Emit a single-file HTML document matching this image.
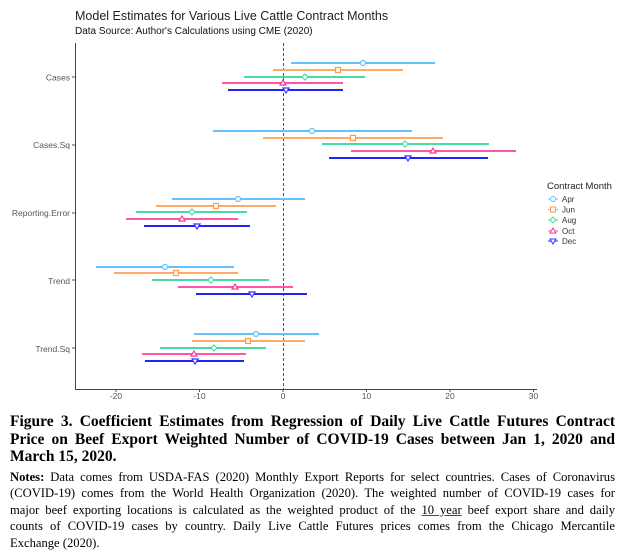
<!DOCTYPE html>
<html><head><meta charset="utf-8"><style>
body{margin:0;width:627px;height:552px;background:#fff;overflow:hidden;position:relative}
.cap{position:absolute;left:10px;width:605px;font-family:"Liberation Serif",serif;color:#000}
.cap div{text-align:justify;text-align-last:justify;white-space:nowrap}
.cap div.l{text-align-last:left}
</style></head><body>
<svg width="627" height="410" style="position:absolute;left:0;top:0" font-family="Liberation Sans, sans-serif">
<text x="75" y="20" font-size="12.5" fill="#222">Model Estimates for Various Live Cattle Contract Months</text>
<text x="75" y="34" font-size="10" fill="#111">Data Source: Author's Calculations using CME (2020)</text>
<line x1="75.5" y1="43" x2="75.5" y2="389" stroke="#444" stroke-width="1"/>
<line x1="75" y1="389.5" x2="537" y2="389.5" stroke="#444" stroke-width="1"/>
<line x1="283.5" y1="43" x2="283.5" y2="389" stroke="#222" stroke-width="0.8" stroke-dasharray="3,2"/>
<g font-size="8.5" fill="#555" text-anchor="end">
<text x="70" y="80.5">Cases</text><text x="70" y="148">Cases.Sq</text><text x="70" y="216">Reporting.Error</text><text x="70" y="284">Trend</text><text x="70" y="352">Trend.Sq</text>
</g>
<g stroke="#555"><line x1="72" y1="77" x2="75" y2="77"/><line x1="72" y1="145" x2="75" y2="145"/><line x1="72" y1="213" x2="75" y2="213"/><line x1="72" y1="280" x2="75" y2="280"/><line x1="72" y1="348" x2="75" y2="348"/>
<line x1="116" y1="389" x2="116" y2="392"/><line x1="199.5" y1="389" x2="199.5" y2="392"/><line x1="283" y1="389" x2="283" y2="392"/><line x1="366.5" y1="389" x2="366.5" y2="392"/><line x1="450" y1="389" x2="450" y2="392"/><line x1="533.5" y1="389" x2="533.5" y2="392"/></g>
<g font-size="8.5" fill="#555" text-anchor="middle">
<text x="116" y="399">-20</text><text x="199.5" y="399">-10</text><text x="283" y="399">0</text><text x="366.5" y="399">10</text><text x="450" y="399">20</text><text x="533.5" y="399">30</text>
</g>
<g stroke-width="2">
<line x1="291" y1="63" x2="435" y2="63" stroke="#66c2ff"/><line x1="273" y1="70" x2="403" y2="70" stroke="#ffaa66"/><line x1="244" y1="77" x2="365" y2="77" stroke="#44dda5"/><line x1="222" y1="83" x2="343" y2="83" stroke="#ff55aa"/><line x1="228" y1="90" x2="343" y2="90" stroke="#2222ff"/>
<line x1="213" y1="131" x2="412" y2="131" stroke="#66c2ff"/><line x1="263" y1="138" x2="443" y2="138" stroke="#ffaa66"/><line x1="322" y1="144" x2="489" y2="144" stroke="#44dda5"/><line x1="351" y1="151" x2="516" y2="151" stroke="#ff55aa"/><line x1="329" y1="158" x2="488" y2="158" stroke="#2222ff"/>
<line x1="172" y1="199" x2="305" y2="199" stroke="#66c2ff"/><line x1="156" y1="206" x2="276" y2="206" stroke="#ffaa66"/><line x1="136" y1="212" x2="247" y2="212" stroke="#44dda5"/><line x1="126" y1="219" x2="238" y2="219" stroke="#ff55aa"/><line x1="144" y1="226" x2="250" y2="226" stroke="#2222ff"/>
<line x1="96" y1="267" x2="234" y2="267" stroke="#66c2ff"/><line x1="114" y1="273" x2="238" y2="273" stroke="#ffaa66"/><line x1="152" y1="280" x2="269" y2="280" stroke="#44dda5"/><line x1="178" y1="287" x2="293" y2="287" stroke="#ff55aa"/><line x1="196" y1="294" x2="307" y2="294" stroke="#2222ff"/>
<line x1="194" y1="334" x2="319" y2="334" stroke="#66c2ff"/><line x1="192" y1="341" x2="305" y2="341" stroke="#ffaa66"/><line x1="160" y1="348" x2="266" y2="348" stroke="#44dda5"/><line x1="142" y1="354" x2="246" y2="354" stroke="#ff55aa"/><line x1="145" y1="361" x2="244" y2="361" stroke="#2222ff"/>
</g>
<g fill="#fff" stroke-width="1.2">
<g stroke="#66c2ff"><circle cx="363" cy="63" r="2.5"/><circle cx="312" cy="131" r="2.5"/><circle cx="238" cy="199" r="2.5"/><circle cx="165" cy="267" r="2.5"/><circle cx="256" cy="334" r="2.5"/></g>
<g stroke="#ff9944"><rect x="335.5" y="67.5" width="5" height="5"/><rect x="350.5" y="135.5" width="5" height="5"/><rect x="213.5" y="203.5" width="5" height="5"/><rect x="173.5" y="270.5" width="5" height="5"/><rect x="245.5" y="338.5" width="5" height="5"/></g>
<g stroke="#44dda5"><path d="M305 74l3 3-3 3-3-3z"/><path d="M405 141l3 3-3 3-3-3z"/><path d="M192 209l3 3-3 3-3-3z"/><path d="M211 277l3 3-3 3-3-3z"/><path d="M214 345l3 3-3 3-3-3z"/></g>
<g stroke="#ff3399"><path d="M283 80l3 5h-6z"/><path d="M433 148l3 5h-6z"/><path d="M182 216l3 5h-6z"/><path d="M235 284l3 5h-6z"/><path d="M194 351l3 5h-6z"/></g>
<g stroke="#3333ff"><path d="M286 93l3-5h-6z"/><path d="M408 161l3-5h-6z"/><path d="M197 229l3-5h-6z"/><path d="M252 297l3-5h-6z"/><path d="M195 364l3-5h-6z"/></g>
</g>
<text x="547" y="189" font-size="9.5" fill="#222">Contract Month</text>
<g font-size="8" fill="#333">
<line x1="548" y1="199" x2="558" y2="199" stroke="#66c2ff"/><circle cx="553" cy="199" r="2.5" fill="#fff" stroke="#66c2ff"/><text x="562" y="202">Apr</text>
<line x1="548" y1="209.5" x2="558" y2="209.5" stroke="#ffaa66"/><rect x="550.5" y="207" width="5" height="5" fill="#fff" stroke="#ff9944"/><text x="562" y="212.5">Jun</text>
<line x1="548" y1="220" x2="558" y2="220" stroke="#44dda5"/><path d="M553 217l3 3-3 3-3-3z" fill="#fff" stroke="#44dda5"/><text x="562" y="223">Aug</text>
<line x1="548" y1="231" x2="558" y2="231" stroke="#ff55aa"/><path d="M553 228l3 5h-6z" fill="#fff" stroke="#ff3399"/><text x="562" y="234">Oct</text>
<line x1="548" y1="241" x2="558" y2="241" stroke="#2222ff"/><path d="M553 244l3-5h-6z" fill="#fff" stroke="#3333ff"/><text x="562" y="244">Dec</text>
</g>
</svg>
<div class="cap" style="top:413px;font-size:15.5px;font-weight:bold;line-height:17.5px">
<div>Figure 3. Coefficient Estimates from Regression of Daily Live Cattle Futures Contract</div>
<div>Price on Beef Export Weighted Number of COVID-19 Cases between Jan 1, 2020 and</div>
<div class="l">March 15, 2020.</div>
</div>
<div class="cap" style="top:468.5px;font-size:12.6px;line-height:16.6px">
<div><b>Notes:</b> Data comes from USDA-FAS (2020) Monthly Export Reports for select countries. Cases of Coronavirus</div>
<div>(COVID-19) comes from the World Health Organization (2020). The weighted number of COVID-19 cases for</div>
<div>major beef exporting locations is calculated as the weighted product of the <span style="text-decoration:underline;text-decoration-color:#1f4fa0">10 year</span> beef export share and daily</div>
<div>counts of COVID-19 cases by country. Daily Live Cattle Futures prices comes from the Chicago Mercantile</div>
<div class="l">Exchange (2020).</div>
</div>
</body></html>
